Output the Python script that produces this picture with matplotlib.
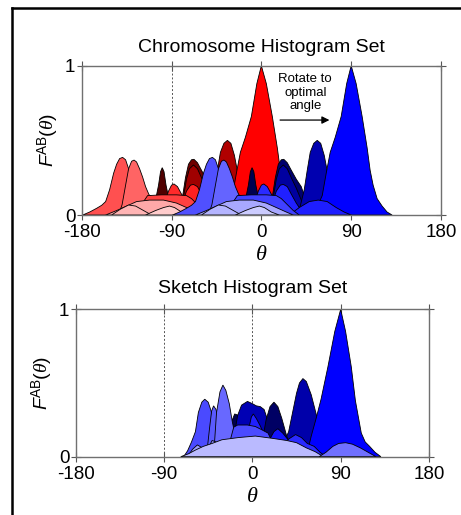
import matplotlib
matplotlib.use("Agg")
import matplotlib.pyplot as plt
from matplotlib.lines import Line2D

plt.rcParams["font.family"] = ["Liberation Sans", "DejaVu Sans"]
plt.rcParams["axes.unicode_minus"] = False
plt.rcParams["mathtext.fontset"] = "custom"
plt.rcParams["mathtext.rm"] = "Liberation Sans"
plt.rcParams["mathtext.sf"] = "Liberation Sans:italic"
plt.rcParams["mathtext.it"] = "Liberation Serif:italic"

# 旋轉角度 (chromosome 直方圖旋轉到最佳角度)
ROTATION = 90

# chromosome 直方圖 (angle, value)
c_left1 = [(-179, 0), (-172, 0.02), (-165, 0.045), (-160, 0.065), (-156, 0.09), (-152, 0.17),
           (-148, 0.28), (-145, 0.34), (-142, 0.378), (-139, 0.386), (-136, 0.37), (-133, 0.31),
           (-130, 0.22), (-126, 0.13), (-121, 0.08), (-114, 0.04), (-105, 0.01), (-98, 0)]
c_left2 = [(-143, 0), (-139.5, 0.07), (-136, 0.2), (-133, 0.31), (-130, 0.36), (-127.5, 0.368),
           (-125, 0.355), (-122, 0.31), (-119, 0.255), (-116, 0.19), (-112.5, 0.135), (-106, 0.11),
           (-98, 0.06), (-90, 0.02), (-82, 0)]
c_mid_a = [(-84, 0), (-79, 0.12), (-76, 0.25), (-73, 0.34), (-70, 0.37), (-67.5, 0.373), (-64, 0.35),
           (-60, 0.3), (-55, 0.24), (-50, 0.19), (-46, 0.11), (-42, 0.04), (-38, 0)]
c_mid_b = [(-82, 0), (-78, 0.12), (-75, 0.24), (-72, 0.31), (-68, 0.335), (-64, 0.31), (-60, 0.25),
           (-55, 0.18), (-50, 0.1), (-45, 0.03), (-41, 0)]
c_mid_c = [(-82, 0), (-78, 0.1), (-75, 0.16), (-71, 0.2), (-68, 0.205), (-64, 0.19), (-60, 0.14),
           (-55, 0.08), (-50, 0.03), (-45, 0)]
c_spike = [(-110, 0), (-106, 0.1), (-103, 0.2), (-101, 0.29), (-99.3, 0.317), (-97.5, 0.29),
           (-95.5, 0.2), (-93, 0.12), (-89, 0.05), (-84, 0)]
c_small = [(-100, 0), (-96, 0.1), (-93, 0.16), (-90, 0.2), (-87.5, 0.208), (-84, 0.19), (-80, 0.14),
           (-76, 0.1), (-70, 0.04), (-64, 0)]
c_second = [(-56, 0), (-51, 0.06), (-47, 0.17), (-44, 0.3), (-41, 0.42), (-37.5, 0.48), (-34, 0.5),
            (-30.5, 0.48), (-27, 0.4), (-23, 0.26), (-19, 0.13), (-14, 0.04), (-9, 0)]
c_main = [(-45, 0), (-38, 0.03), (-33, 0.07), (-29, 0.13), (-25, 0.28), (-21, 0.42), (-16, 0.52),
          (-10, 0.66), (-4.5, 0.88), (0, 1.0), (5, 0.88), (11, 0.66), (16, 0.45), (19, 0.3),
          (22, 0.2), (26, 0.11), (31, 0.06), (36, 0.02), (41, 0)]
c_low = [(-62, 0), (-52, 0.05), (-42, 0.09), (-33, 0.1), (-24, 0.09), (-15, 0.05), (-7, 0.02), (0, 0)]
c_band = [(-125, 0), (-119, 0.08), (-114, 0.13), (-100, 0.135), (-85, 0.135), (-75, 0.13),
          (-70, 0.11), (-64, 0.07), (-58, 0.03), (-52, 0)]
c_hump = [(-156, 0), (-145, 0.03), (-135, 0.06), (-125, 0.09), (-112, 0.1), (-98, 0.1), (-85, 0.08),
          (-75, 0.05), (-65, 0.02), (-58, 0)]
c_bump = [(-150, 0), (-141, 0.04), (-133, 0.067), (-126, 0.06), (-118, 0.03), (-110, 0)]
c_tiny = [(-116, 0), (-106, 0.03), (-98, 0.05), (-92, 0.06), (-87, 0.05), (-80, 0.02), (-72, 0)]

# sketch 直方圖 (angle, value)
s_second = [(25, 0), (30, 0.06), (33, 0.11), (37, 0.17), (41, 0.3), (45, 0.43), (48, 0.5),
            (51.5, 0.53), (55, 0.51), (60, 0.42), (65, 0.29), (70, 0.15), (75, 0.05), (80, 0)]
s_main = [(55, 0), (60, 0.14), (65, 0.26), (70, 0.39), (77, 0.61), (84, 0.85), (90, 1.0), (95, 0.85),
          (100.8, 0.61), (105, 0.38), (111, 0.16), (115, 0.1), (119.5, 0.07), (125, 0.03), (131, 0)]
s_navy = [(-28, 0), (-24, 0.12), (-21, 0.24), (-18, 0.29), (-14, 0.28), (-10, 0.2), (-5, 0.05), (0, 0)]
s_mid = [(-25, 0), (-19, 0.12), (-15, 0.28), (-11, 0.35), (-5, 0.375), (0, 0.36), (4, 0.345),
         (8, 0.34), (12, 0.32), (15, 0.26), (19, 0.14), (24, 0.04), (28, 0)]
s_right = [(5, 0), (10, 0.1), (14, 0.25), (18, 0.34), (22, 0.37), (26, 0.34), (30, 0.26), (35, 0.14),
           (40, 0.05), (46, 0)]
s_left1 = [(-70, 0), (-66, 0.04), (-62, 0.1), (-58, 0.17), (-55, 0.3), (-51.5, 0.37), (-48.5, 0.39),
           (-45, 0.37), (-42, 0.31), (-39, 0.2), (-36, 0.1), (-32, 0.04), (-28, 0)]
s_left2 = [(-48, 0), (-45.5, 0.08), (-43.5, 0.2), (-41.5, 0.31), (-39.5, 0.345), (-37, 0.32),
           (-34, 0.22), (-30, 0.1), (-25, 0.03), (-20, 0)]
s_left3 = [(-42, 0), (-38.5, 0.1), (-36.5, 0.3), (-33, 0.44), (-30, 0.486), (-27, 0.45),
           (-23.5, 0.36), (-20.5, 0.24), (-18, 0.16), (-15, 0.08), (-10, 0.02), (-6, 0)]
s_small = [(-8, 0), (-4, 0.18), (-1, 0.27), (1, 0.29), (4, 0.26), (8, 0.21), (12, 0.15), (17, 0.08),
           (23, 0.02), (28, 0)]
s_band = [(-28, 0), (-23, 0.1), (-19, 0.2), (-15, 0.215), (-5, 0.215), (3, 0.205), (9, 0.185),
          (16, 0.16), (21, 0.09), (27, 0.02), (31, 0)]
s_hump25 = [(12, 0), (17, 0.11), (22, 0.17), (26, 0.19), (31, 0.16), (37, 0.11), (44, 0.08), (51, 0.04),
            (58, 0)]
s_hump45 = [(25, 0), (31, 0.06), (37, 0.12), (44, 0.15), (50, 0.13), (56, 0.09), (63, 0.07), (69, 0.03),
            (75, 0)]
s_bump1 = [(-66, 0), (-61, 0.05), (-56, 0.08), (-51, 0.06), (-45, 0.03), (-40, 0)]
s_bump2 = [(-48, 0), (-44, 0.07), (-41, 0.11), (-37, 0.1), (-31, 0.05), (-25, 0)]
s_wide = [(-73, 0), (-65, 0.02), (-58, 0.045), (-50, 0.07), (-41, 0.09), (-31, 0.115), (-14, 0.13),
          (3, 0.14), (20, 0.125), (35, 0.11), (45, 0.095), (55, 0.06), (64, 0.034), (70, 0.01), (74, 0)]
s_tail = [(68, 0), (75, 0.03), (82, 0.07), (88, 0.09), (95, 0.095), (102, 0.085), (110, 0.06),
          (118, 0.03), (126, 0)]

# 繪製順序 (後 -> 前) 與顏色
chromo_curves = [
    (c_left1, "#ff5050"), (c_left2, "#ff6464"),
    (c_mid_a, "#6e0000"), (c_mid_b, "#a00000"), (c_mid_c, "#ff2020"),
    (c_spike, "#500000"), (c_small, "#ff2a2a"),
    (c_second, "#b00000"), (c_main, "#ff0000"), (c_low, "#ff1e1e"),
    (c_band, "#ff4040"), (c_hump, "#ffa8a8"), (c_bump, "#ffb4b4"), (c_tiny, "#ffcccc"),
]
sketch_curves = [
    (s_second, "#0000aa"), (s_main, "#0000ff"), (s_navy, "#000050"), (s_mid, "#0000b4"),
    (s_right, "#000064"), (s_left1, "#4a4aff"), (s_left2, "#5a5aff"), (s_left3, "#6868ff"),
    (s_small, "#2020ff"), (s_band, "#4b4bff"), (s_hump25, "#1414ff"), (s_hump45, "#2a2aff"),
    (s_bump1, "#9a9aff"), (s_bump2, "#8a8aff"), (s_wide, "#babaff"), (s_tail, "#7070ff"),
]


def to_blue(c):
    # 紅 -> 藍: 交換 R 與 B 通道
    return "#" + c[5:7] + c[3:5] + c[1:3]


def draw_curve(ax, pts, color, shift=0):
    xs = [p[0] + shift for p in pts]
    ys = [p[1] for p in pts]
    ax.fill(xs, ys, facecolor=color, edgecolor="black", linewidth=0.6, zorder=2)


def style_axes(ax, title, dotted, pad):
    ax.set_xlim(-180, 180)
    ax.set_ylim(0, 1)
    ax.set_xticks([-180, -90, 0, 90, 180])
    ax.set_yticks([0, 1])
    ax.tick_params(direction="inout", length=7, width=0.8, color="#555555",
                   labelsize=13.5, top=True, right=True, pad=1)
    ax.tick_params(axis="x", pad=3)
    for s in ax.spines.values():
        s.set_color("#707070")
        s.set_linewidth(1.0)
    for d in dotted:
        ax.axvline(d, color="#555555", linestyle=(0, (2, 2)), linewidth=0.7, zorder=1)
    ax.set_title(title, fontsize=14, pad=pad)
    ax.set_xlabel(r"$\theta$", fontsize=16, labelpad=2)
    ax.set_ylabel(r"$\mathsf{F}^{\mathrm{AB}}(\theta)$", fontsize=14, labelpad=3)


fig = plt.figure(figsize=(4.61, 5.15), dpi=100)
ax1 = fig.add_axes([0.1772, 0.5825, 0.7794, 0.2899])
ax2 = fig.add_axes([0.1642, 0.1132, 0.7664, 0.2862])

for pts, col in chromo_curves:
    draw_curve(ax1, pts, col)
for pts, col in chromo_curves:
    draw_curve(ax1, pts, to_blue(col), shift=ROTATION)
for pts, col in sketch_curves:
    draw_curve(ax2, pts, col)

style_axes(ax1, "Chromosome Histogram Set", [-90, 0, 90], 10)
style_axes(ax2, "Sketch Histogram Set", [-90, 0, 90], 12)

ax1.text(44, 0.82, "Rotate to\noptimal\nangle", ha="center", va="center", fontsize=9.5,
         linespacing=1.15)
ax1.annotate("", xy=(71, 0.636), xytext=(16, 0.636),
             arrowprops=dict(arrowstyle="-|>", color="black", lw=0.9, mutation_scale=11))

# 外框
fig.add_artist(Line2D([12 / 461, 12 / 461], [0, 1 - 8 / 515], color="black", linewidth=1.8))
fig.add_artist(Line2D([12 / 461, 1], [1 - 8 / 515, 1 - 8 / 515], color="black", linewidth=1.8))

fig.savefig("out.png", dpi=100)
